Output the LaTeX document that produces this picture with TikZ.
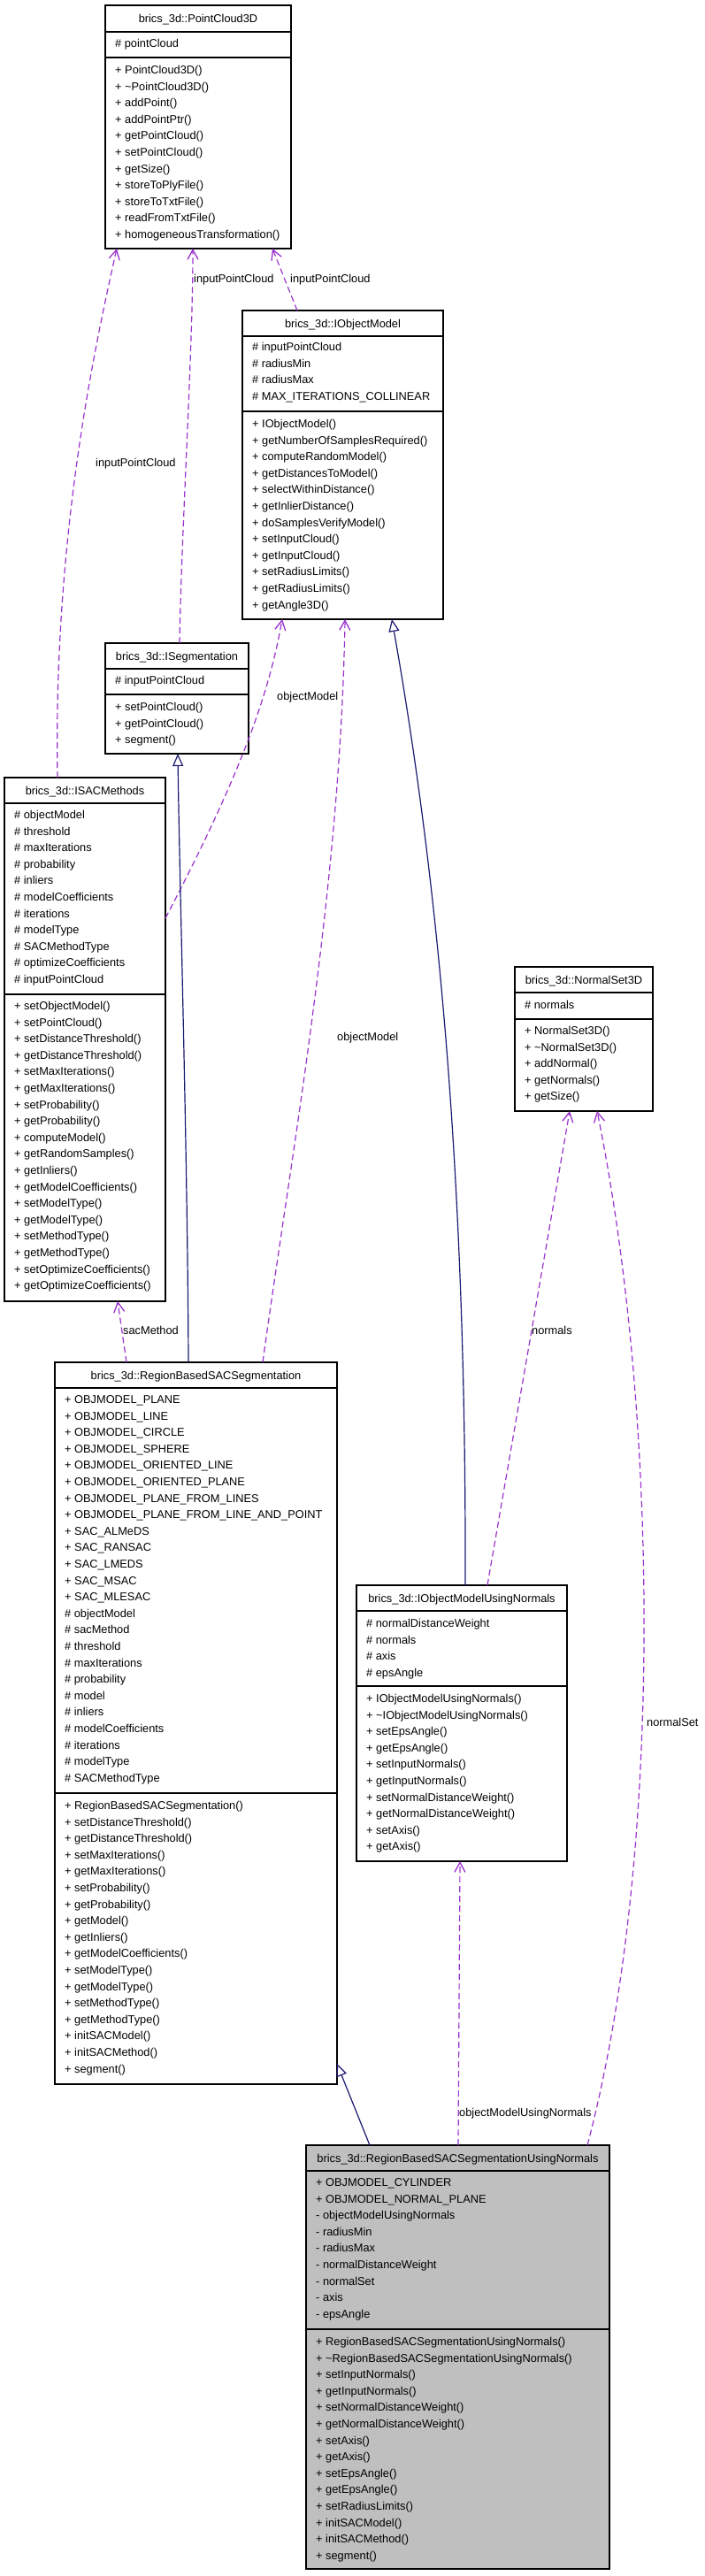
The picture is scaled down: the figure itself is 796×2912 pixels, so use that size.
\documentclass[tikz,border=0pt]{standalone}
\usepackage{fontspec}
\setmainfont{Liberation Sans}
\usetikzlibrary{arrows.meta,calc}
\definecolor{depc}{HTML}{9A32CD}
\definecolor{genc}{HTML}{191970}
\definecolor{boxgray}{HTML}{BFBFBF}
\tikzset{
  classbox/.style={draw=black, line width=1.3pt, inner sep=0pt, outer sep=0pt, rectangle},
  sepline/.style={draw=black, line width=1.3pt},
  txt/.style={anchor=base west, inner sep=0pt, font=\fontsize{12.8}{15}\selectfont},
  ttl/.style={anchor=base, inner sep=0pt, font=\fontsize{12.8}{15}\selectfont},
  lbl/.style={anchor=base west, inner sep=0pt, font=\fontsize{12.8}{15}\selectfont},
  depline/.style={draw=depc, line width=1.2pt, dash pattern=on 7pt off 4pt,
    -{Straight Barb[length=11pt,width=12pt,line width=1.3pt]}},
  genline/.style={draw=genc, line width=1.2pt,
    -{Triangle[open,length=14pt,width=12pt,line width=1.2pt]}}
}
\newcommand\umlclass[9]{% name, L, T, R, B, s1, s2, fill, title
  \node[classbox, fill=#8, minimum width={#4-#2}, minimum height={#5-#3}] (#1) at ({(#2+#4)/2},{(#3+#5)/2}) {};
  \draw[sepline] (#2,#6) -- (#4,#6);
  \draw[sepline] (#2,#7) -- (#4,#7);
  \node[ttl] (#1-title) at ({(#2+#4)/2},{(#3+#6)/2+4.5}) {#9};
}
\newcommand\umlrows[4]{% prefix, x, y0, list
  \foreach \itm [count=\i from 0] in {#4} {\node[txt] (#1\i) at (#2,{#3+4.5+18.6*\i}) {\itm};}
}
\begin{document}
\begin{tikzpicture}[x=1pt,y=-1pt]
\fill[white] (0,0) rectangle (796,2912);
\useasboundingbox (0,0) rectangle (796,2912);

% PointCloud3D
\umlclass{pc}{119}{6}{329}{281}{36}{65}{white}{brics\_3d::PointCloud3D}
\umlrows{pca}{130}{49}{\# pointCloud}
\umlrows{pcm}{130}{79}{+ PointCloud3D(), + \textasciitilde PointCloud3D(), + addPoint(), + addPointPtr(), + getPointCloud(), + setPointCloud(), + getSize(), + storeToPlyFile(), + storeToTxtFile(), + readFromTxtFile(), + homogeneousTransformation()}

% IObjectModel
\umlclass{iom}{274}{351}{501}{700}{380}{465}{white}{brics\_3d::IObjectModel}
\umlrows{ioma}{285}{392}{\# inputPointCloud, \# radiusMin, \# radiusMax, \# MAX\_ITERATIONS\_COLLINEAR}
\umlrows{iomm}{285}{479}{+ IObjectModel(), + getNumberOfSamplesRequired(), + computeRandomModel(), + getDistancesToModel(), + selectWithinDistance(), + getInlierDistance(), + doSamplesVerifyModel(), + setInputCloud(), + getInputCloud(), + setRadiusLimits(), + getRadiusLimits(), + getAngle3D()}

% ISegmentation
\umlclass{iseg}{119}{727}{281}{852}{756}{785}{white}{brics\_3d::ISegmentation}
\umlrows{isega}{130}{769}{\# inputPointCloud}
\umlrows{isegm}{130}{799}{+ setPointCloud(), + getPointCloud(), + segment()}

% ISACMethods
\umlclass{isac}{5}{879}{187}{1471}{908}{1124}{white}{brics\_3d::ISACMethods}
\umlrows{isaca}{16}{921}{\# objectModel, \# threshold, \# maxIterations, \# probability, \# inliers, \# modelCoefficients, \# iterations, \# modelType, \# SACMethodType, \# optimizeCoefficients, \# inputPointCloud}
\umlrows{isacm}{16}{1137}{+ setObjectModel(), + setPointCloud(), + setDistanceThreshold(), + getDistanceThreshold(), + setMaxIterations(), + getMaxIterations(), + setProbability(), + getProbability(), + computeModel(), + getRandomSamples(), + getInliers(), + getModelCoefficients(), + setModelType(), + getModelType(), + setMethodType(), + getMethodType(), + setOptimizeCoefficients(), + getOptimizeCoefficients()}

% NormalSet3D
\umlclass{ns}{582}{1093}{738}{1256}{1122}{1152}{white}{brics\_3d::NormalSet3D}
\umlrows{nsa}{593}{1136}{\# normals}
\umlrows{nsm}{593}{1165}{+ NormalSet3D(), + \textasciitilde NormalSet3D(), + addNormal(), + getNormals(), + getSize()}

% RegionBasedSACSegmentation
\umlclass{rbs}{62}{1540}{381}{2356}{1569}{2027}{white}{brics\_3d::RegionBasedSACSegmentation}
\umlrows{rbsa}{73}{1582}{+ OBJMODEL\_PLANE, + OBJMODEL\_LINE, + OBJMODEL\_CIRCLE, + OBJMODEL\_SPHERE, + OBJMODEL\_ORIENTED\_LINE, + OBJMODEL\_ORIENTED\_PLANE, + OBJMODEL\_PLANE\_FROM\_LINES, + OBJMODEL\_PLANE\_FROM\_LINE\_AND\_POINT, + SAC\_ALMeDS, + SAC\_RANSAC, + SAC\_LMEDS, + SAC\_MSAC, + SAC\_MLESAC, \# objectModel, \# sacMethod, \# threshold, \# maxIterations, \# probability, \# model, \# inliers, \# modelCoefficients, \# iterations, \# modelType, \# SACMethodType}
\umlrows{rbsm}{73}{2041}{+ RegionBasedSACSegmentation(), + setDistanceThreshold(), + getDistanceThreshold(), + setMaxIterations(), + getMaxIterations(), + setProbability(), + getProbability(), + getModel(), + getInliers(), + getModelCoefficients(), + setModelType(), + getModelType(), + setMethodType(), + getMethodType(), + initSACModel(), + initSACMethod(), + segment()}

% IObjectModelUsingNormals
\umlclass{iomun}{403}{1792}{641}{2104}{1821}{1906}{white}{brics\_3d::IObjectModelUsingNormals}
\umlrows{iomuna}{414}{1835}{\# normalDistanceWeight, \# normals, \# axis, \# epsAngle}
\umlrows{iomunm}{414}{1920}{+ IObjectModelUsingNormals(), + \textasciitilde IObjectModelUsingNormals(), + setEpsAngle(), + getEpsAngle(), + setInputNormals(), + getInputNormals(), + setNormalDistanceWeight(), + getNormalDistanceWeight(), + setAxis(), + getAxis()}

% RegionBasedSACSegmentationUsingNormals
\umlclass{rbsun}{346}{2425}{689}{2904}{2454}{2633}{boxgray}{brics\_3d::RegionBasedSACSegmentationUsingNormals}
\umlrows{rbsuna}{357}{2467}{+ OBJMODEL\_CYLINDER, + OBJMODEL\_NORMAL\_PLANE, - objectModelUsingNormals, - radiusMin, - radiusMax, - normalDistanceWeight, - normalSet, - axis, - epsAngle}
\umlrows{rbsunm}{357}{2647}{+ RegionBasedSACSegmentationUsingNormals(), + \textasciitilde RegionBasedSACSegmentationUsingNormals(), + setInputNormals(), + getInputNormals(), + setNormalDistanceWeight(), + getNormalDistanceWeight(), + setAxis(), + getAxis(), + setEpsAngle(), + getEpsAngle(), + setRadiusLimits(), + initSACModel(), + initSACMethod(), + segment()}

% ---- connectors ----
% ISACMethods -> PointCloud3D
\draw[depline] ($(isac.north west)+(60,0)$) .. controls (60,600) and (110,380) .. ($(pc.south west)+(13,0)$);
\node[lbl] (l1) at (108,527.5) {inputPointCloud};
% ISegmentation -> PointCloud3D
\draw[depline] ($(iseg.north west)+(84,0)$) .. controls (205,600) and (218,400) .. ($(pc.south west)+(99,0)$);
\node[lbl] (l2) at (219,319.5) {inputPointCloud};
% IObjectModel -> PointCloud3D
\draw[depline] ($(iom.north west)+(62,0)$) -- ($(pc.south west)+(189,0)$);
\node[lbl] (l3) at (328,319.5) {inputPointCloud};
% ISACMethods -> IObjectModel
\draw[depline] ($(isac.north east)+(0,159)$) .. controls (275,870) and (305,780) .. ($(iom.south west)+(45,0)$);
\node[lbl] (l4) at (313,791.5) {objectModel};
% RegionBasedSACSegmentation -> IObjectModel
\draw[depline] ($(rbs.north west)+(235,0)$) .. controls (330,1300) and (385,1000) .. ($(iom.south west)+(116,0)$);
\node[lbl] (l5) at (381,1176.5) {objectModel};
% RegionBasedSACSegmentation -> ISACMethods
\draw[depline] ($(rbs.north west)+(81,0)$) -- ($(isac.south west)+(128,0)$);
\node[lbl] (l6) at (139,1508.5) {sacMethod};
% RegionBasedSACSegmentation -> ISegmentation (generalization)
\draw[genline] ($(rbs.north west)+(151,0)$) .. controls (212,1300) and (203,1000) .. ($(iseg.south west)+(82,0)$);
% IObjectModelUsingNormals -> IObjectModel (generalization)
\draw[genline] ($(iomun.north west)+(123,0)$) .. controls (527,1400) and (505,1050) .. ($(iom.south west)+(169,0)$);
% IObjectModelUsingNormals -> NormalSet3D
\draw[depline] ($(iomun.north west)+(148,0)$) -- ($(ns.south west)+(62,0)$);
\node[lbl] (l7) at (601,1508.5) {normals};
% RegionBasedSACSegmentationUsingNormals -> NormalSet3D
\draw[depline] ($(rbsun.north west)+(318,0)$) .. controls (750,2100) and (745,1600) .. ($(ns.south west)+(93,0)$);
\node[lbl] (l8) at (731,1951.5) {normalSet};
% RegionBasedSACSegmentationUsingNormals -> IObjectModelUsingNormals
\draw[depline] ($(rbsun.north west)+(172,0)$) -- ($(iomun.south west)+(117,0)$);
\node[lbl] (l9) at (519,2392.5) {objectModelUsingNormals};
% RegionBasedSACSegmentationUsingNormals -> RegionBasedSACSegmentation (generalization)
\draw[genline] ($(rbsun.north west)+(72,0)$) -- ($(rbs.south east)+(0,-23)$);
\end{tikzpicture}
\end{document}
